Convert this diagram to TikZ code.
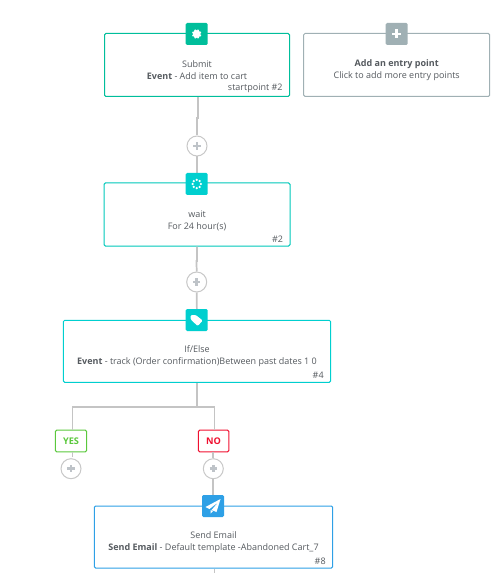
\documentclass[tikz,border=0pt]{standalone}
\usepackage{fontspec}
\setmainfont{Open Sans}
\usepackage{xcolor}
\usetikzlibrary{arrows.meta,positioning,calc}
\definecolor{flowtext}{RGB}{85,90,95}
\definecolor{flowline}{RGB}{196,196,196}
\definecolor{flowcirc}{RGB}{200,200,200}
\definecolor{flowplus}{RGB}{190,195,200}
\definecolor{flowstart}{RGB}{0,190,155}
\definecolor{flowcyan}{RGB}{0,207,207}
\definecolor{flowblue}{RGB}{46,160,230}
\definecolor{flowgrey}{RGB}{160,176,180}
\definecolor{flowyes}{RGB}{90,200,60}
\definecolor{flowno}{RGB}{240,16,48}
\tikzset{
  stepbox/.style={
    draw=#1, line width=0.75pt, rounded corners=1pt, fill=white,
    minimum height=47.25pt, inner sep=0pt
  },
  icon/.style={
    fill=#1, rounded corners=1pt, minimum size=16.5pt, inner sep=0pt
  },
  txt/.style={
    font=\fontsize{6.75}{9}\selectfont, text=flowtext, align=center, inner sep=0pt
  },
  num/.style={txt, anchor=south east, xshift=-5.4pt, yshift=3pt},
  branch/.style={
    draw=#1, text=#1, line width=0.75pt, rounded corners=1pt, fill=white,
    font=\fontsize{6.9}{9}\selectfont\bfseries, inner sep=0pt, minimum height=16.2pt
  },
  addbtn/.style={
    circle, draw=flowcirc, line width=0.75pt, fill=white,
    minimum size=15pt, inner sep=0pt
  },
  conn/.style={draw=flowline, line width=1.3pt},
  plusmark/.style={draw=flowplus, line width=2pt},
  pluswhite/.style={draw=white, line width=2.2pt}
}
\begin{document}
\begin{tikzpicture}[x=0.75pt,y=-0.75pt]
  \useasboundingbox (0,0) rectangle (496,573);
  % jogs and free ends of the connectors
  \coordinate (j1) at (198,118);
  \coordinate (j2) at (197,118);
  \coordinate (j3) at (197,261);
  \coordinate (j4) at (196.5,261);
  \coordinate (fork) at (197,407);
  \coordinate (yestop) at (72.5,407);
  \coordinate (notop) at (214.5,407);
  \coordinate (tail) at (214.5,573);

  % boxes
  \node[stepbox=flowstart, minimum width=138.75pt] (submit) at (197,65) {};
  \node[stepbox=flowgrey, minimum width=139.5pt] (entry) at (396.7,65) {};
  \node[stepbox=flowstart!40!flowcyan, minimum width=139.5pt] (wait) at (197,214.5) {};
  \node[stepbox=flowcyan, minimum width=200.5pt, minimum height=46.5pt] (ifelse) at (197,351.3) {};
  \node[stepbox=flowblue, minimum width=178.75pt, minimum height=46.5pt] (email) at (213.5,537) {};
  \node[branch=flowyes, minimum width=23.5pt] (yes) at (71,441) {YES};
  \node[branch=flowno, minimum width=23pt] (no) at (213.6,441) {NO};

  % add buttons
  \node[addbtn] (add1) at (197,146) {};
  \node[addbtn] (add2) at (196.7,282) {};
  \node[addbtn] (add3) at (71,468.7) {};
  \node[addbtn] (add4) at (213.3,468.7) {};

  % connectors
  \draw[conn] (submit.south -| j1) -- (j1) -- (j2) -- (add1.north -| j2);
  \draw[conn] (add1.south) -- (wait.north);
  \draw[conn] (wait.south) -- (j3) -- (j4) -- (add2.north);
  \draw[conn] (add2.south) -- (ifelse.north);
  \draw[conn] (ifelse.south) -- (fork);
  \draw[conn] (yes.north -| yestop) -- (yestop) -- (notop) -- (no.north -| notop);
  \draw[conn] (yes.south -| yestop) -- ($(add3.north -| yestop)+(0,-1)$);
  \draw[conn] (no.south -| add4) -- (add4.north);
  \draw[conn] (add4.south) -- (email.north -| add4);
  \draw[conn] (email.south -| tail) -- (tail);

  \foreach \n in {add1,add2,add3,add4} {
    \draw[plusmark] ($(\n)+(-3.6,0)$) -- ($(\n)+(3.6,0)$);
    \draw[plusmark] ($(\n)+(0,-3.6)$) -- ($(\n)+(0,3.6)$);
  }

  % icons
  \node[icon=flowstart] (icsubmit) at (196.7,34) {};
  \node[icon=flowgrey] (icentry) at (396.7,34) {};
  \node[icon=flowcyan] (icwait) at (196.7,184) {};
  \node[icon=flowcyan] (icif) at (196.7,320) {};
  \node[icon=flowblue] (icemail) at (213,506) {};

  \begin{scope}[shift={(icsubmit.center)}]
    \fill[white] (0,0) circle (3.9);
    \foreach \a in {22,67,...,337}
      \draw[white, line width=1.2pt] (0,0) -- (\a:4.6);
  \end{scope}
  \draw[pluswhite] ($(icentry)+(-4.5,0)$) -- ($(icentry)+(4.5,0)$);
  \draw[pluswhite] ($(icentry)+(0,-4.5)$) -- ($(icentry)+(0,4.5)$);
  \begin{scope}[shift={(icwait.center)}]
    \foreach \a in {0,45,...,315}
      \fill[white] (\a:4.2) circle (1.25);
  \end{scope}
  \begin{scope}[shift={(icif.center)}]
    \fill[white, rounded corners=0.8pt] (-6,-5) -- (-1,-5) -- (6,0.5) -- (1,6) -- (-6,-0.5) -- cycle;
  \end{scope}
  \begin{scope}[shift={(icemail.center)}]
    \fill[white] (7.5,-7) -- (-7.5,1) -- (-3.5,3) -- (5.5,-4) -- (-1.5,4) -- (3.5,6) -- cycle;
    \fill[white] (-2.5,4) -- (-2.5,7.5) -- (0,5) -- cycle;
  \end{scope}

  % texts
  \node[txt] (submittxt) at (197,70.5) {Submit\\\textbf{Event} - Add item to cart};
  \node[num] (submitnum) at (submit.south east) {startpoint \#2};
  \node[txt] (entrytxt) at (396.7,70.5) {\textbf{Add an entry point}\\Click to add more entry points};
  \node[txt] (waittxt) at (197,220.5) {wait\\For 24 hour(s)};
  \node[num] (waitnum) at (wait.south east) {\#2};
  \node[txt] (iftxt) at (197,356.5) {If/Else\\\textbf{Event} - track (Order confirmation)Between past dates 1 0};
  \node[num] (ifnum) at (ifelse.south east) {\#4};
  \node[txt] (emailtxt) at (213.5,542.5) {Send Email\\\textbf{Send Email} - Default template -Abandoned Cart\_7};
  \node[num] (emailnum) at (email.south east) {\#8};
\end{tikzpicture}
\end{document}
